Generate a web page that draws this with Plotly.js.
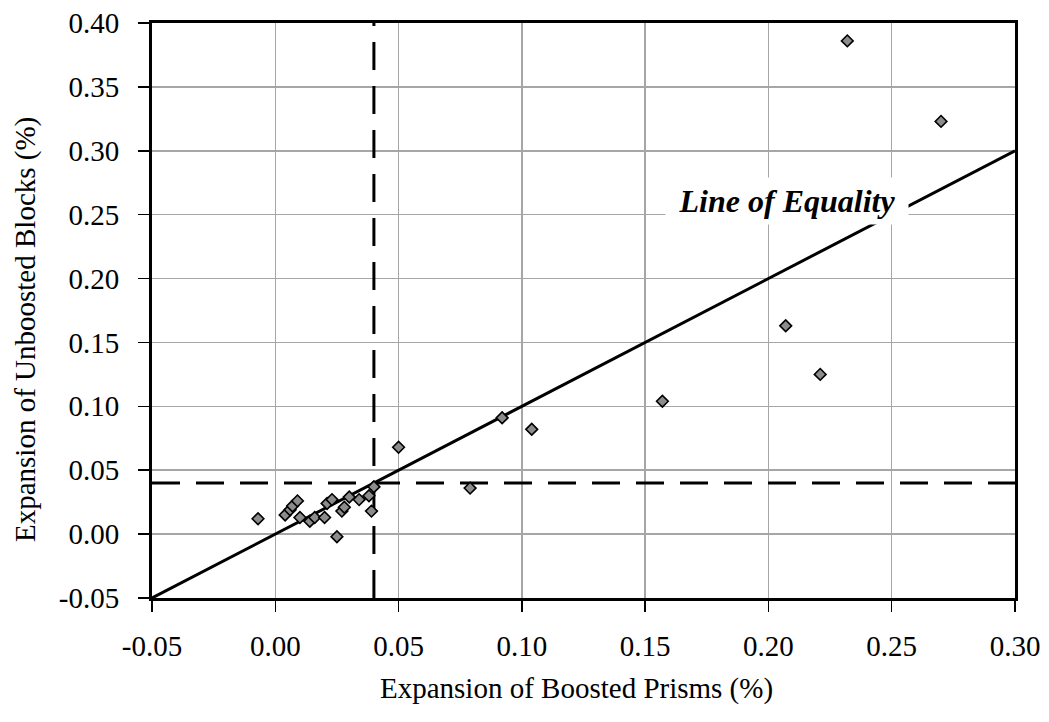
<!DOCTYPE html>
<html>
<head>
<meta charset="utf-8">
<script src="https://cdn.plot.ly/plotly-3.0.1.min.js"></script>
<style>html,body{margin:0;padding:0;background:#fff;}#chart{width:1049px;height:722px;}</style>
</head>
<body>
<div id="chart"></div>
<script>
// Data
const boostedPrisms = [-0.007, 0.004, 0.006, 0.007, 0.009, 0.010, 0.014, 0.016, 0.020, 0.021, 0.023, 0.025, 0.027, 0.028, 0.030, 0.034, 0.038, 0.039, 0.040, 0.050, 0.079, 0.092, 0.104, 0.157, 0.207, 0.221, 0.232, 0.270];
const unboostedBlocks = [0.012, 0.015, 0.019, 0.022, 0.026, 0.013, 0.010, 0.013, 0.013, 0.024, 0.027, -0.002, 0.018, 0.021, 0.029, 0.027, 0.030, 0.018, 0.037, 0.068, 0.036, 0.091, 0.082, 0.104, 0.163, 0.125, 0.386, 0.323];

const equalityX = [-0.05, 0.30];
const equalityY = [-0.05, 0.30];
const limitValue = 0.04;

const xTickVals = [-0.05, 0.00, 0.05, 0.10, 0.15, 0.20, 0.25, 0.30];
const xTickText = ['-0.05', '0.00', '0.05', '0.10', '0.15', '0.20', '0.25', '0.30'];
const yTickVals = [-0.05, 0.00, 0.05, 0.10, 0.15, 0.20, 0.25, 0.30, 0.35, 0.40];
const yTickText = ['-0.05', '0.00', '0.05', '0.10', '0.15', '0.20', '0.25', '0.30', '0.35', '0.40'];

const xTitle = 'Expansion of Boosted Prisms (%)';
const yTitle = 'Expansion of Unboosted Blocks (%)';
const equalityLabel = 'Line of Equality';

const xRange = [-0.05, 0.30];
const yRange = [-0.05, 0.40];

const FONT = 'Liberation Serif, Times New Roman, serif';
const FS = 29;

const traces = [
  {
    x: [limitValue, limitValue], y: yRange, mode: 'lines', hoverinfo: 'skip',
    line: { color: '#000', width: 3, dash: '28px,16px' }, showlegend: false
  },
  {
    x: xRange, y: [limitValue, limitValue], mode: 'lines', hoverinfo: 'skip',
    line: { color: '#000', width: 3, dash: '28px,16px' }, showlegend: false
  },
  {
    x: equalityX, y: equalityY, mode: 'lines',
    line: { color: '#000', width: 3 }, showlegend: false
  },
  {
    x: boostedPrisms, y: unboostedBlocks, mode: 'markers', type: 'scatter',
    marker: { symbol: 'diamond', size: 9, color: '#8c8c8c', line: { color: '#000', width: 1.6 } },
    showlegend: false
  }
];

const axisCommon = {
  showline: true, linecolor: '#000', linewidth: 3, mirror: true,
  showgrid: true, gridcolor: '#a6a6a6', gridwidth: 1.5,
  zeroline: false, ticks: 'outside', ticklen: 11, tickwidth: 1.5, tickcolor: '#000',
  tickfont: { family: FONT, size: FS, color: '#000' }, tickmode: 'array', automargin: false
};

const layout = {
  width: 1049, height: 722,
  margin: { l: 152, r: 34, t: 23, b: 124 },
  paper_bgcolor: '#fff', plot_bgcolor: '#fff',
  font: { family: FONT, color: '#000' },
  xaxis: Object.assign({}, axisCommon, {
    range: xRange, tickvals: xTickVals, ticktext: xTickText, ticklabelstandoff: 9
  }),
  yaxis: Object.assign({}, axisCommon, {
    range: yRange, tickvals: yTickVals, ticktext: yTickText, ticklabelstandoff: 13
  }),
  annotations: [
    {
      x: 0.2074, y: 0.261, xref: 'x', yref: 'y', showarrow: false,
      text: '<b><i>' + equalityLabel + '</i></b>',
      font: { family: FONT, size: 32, color: '#000' },
      bgcolor: '#fff', width: 242, height: 46, borderpad: 0
    },
    {
      x: 576, y: 688, xref: 'paper', yref: 'paper', showarrow: false,
      xanchor: 'center', yanchor: 'middle',
      text: xTitle, font: { family: FONT, size: FS, color: '#000' }
    },
    {
      x: 25, y: 330, xref: 'paper', yref: 'paper', showarrow: false, textangle: -90,
      xanchor: 'center', yanchor: 'middle',
      text: yTitle, font: { family: FONT, size: FS, color: '#000' }
    }
  ]
};
// convert pixel-based title positions to paper fractions
(function () {
  const pw = layout.width - layout.margin.l - layout.margin.r;
  const ph = layout.height - layout.margin.t - layout.margin.b;
  [layout.annotations[1], layout.annotations[2]].forEach(a => {
    a.x = (a.x - layout.margin.l) / pw;
    a.y = (layout.height - layout.margin.b - a.y) / ph;
  });
})();

Plotly.newPlot('chart', traces, layout, { staticPlot: true });
</script>
</body>
</html>
